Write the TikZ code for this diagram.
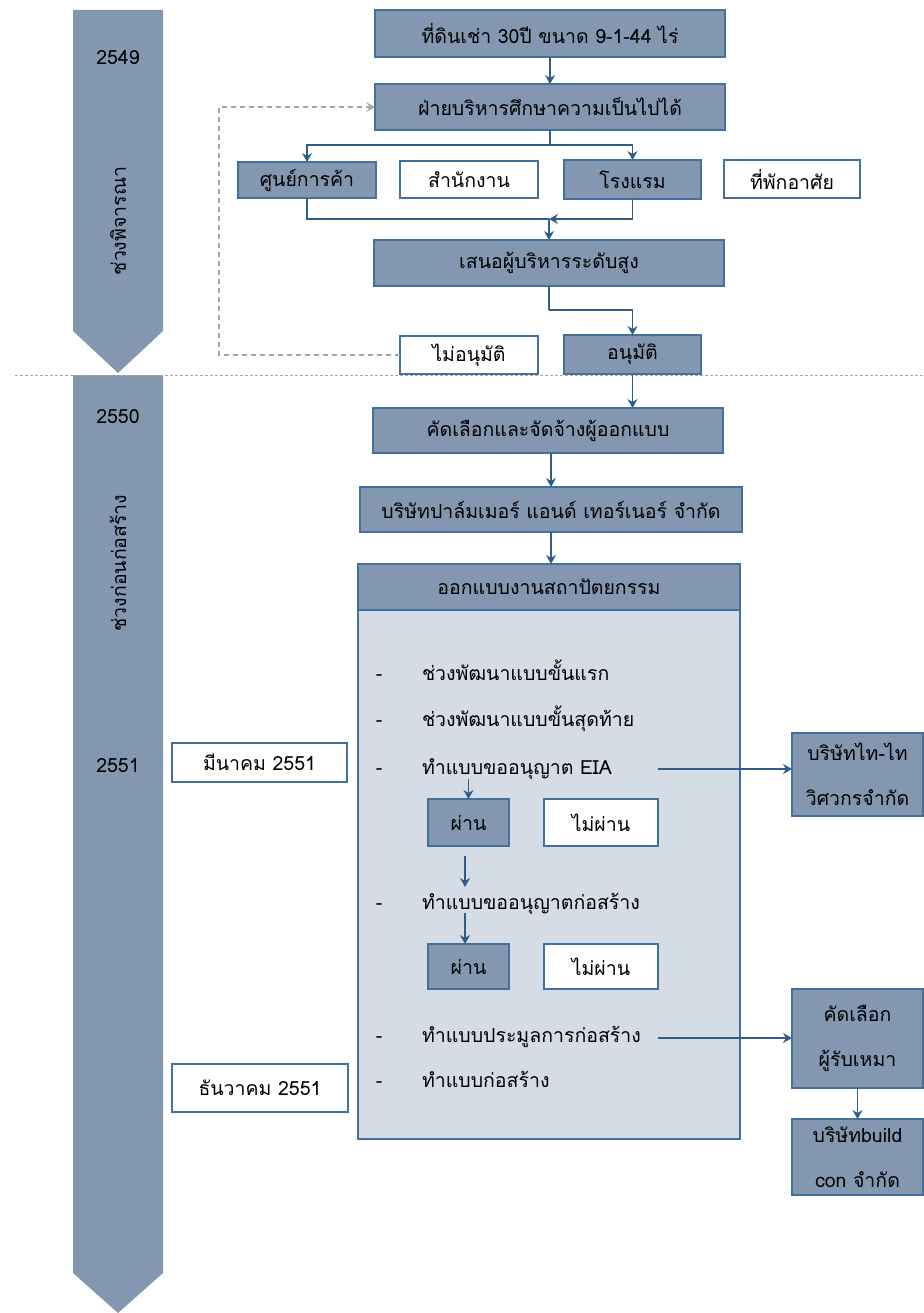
\documentclass[tikz,border=0pt]{standalone}
\usepackage{fontspec}
\setmainfont{Loma}[Script=Thai]
\usetikzlibrary{arrows.meta,calc}
\definecolor{fillB}{HTML}{8497B0}
\definecolor{lineB}{HTML}{41719C}
\definecolor{lightB}{HTML}{D6DCE5}
\definecolor{arrB}{HTML}{2F5C8A}
\definecolor{dashG}{HTML}{A6A6A6}
\begin{document}
\begin{tikzpicture}[x=1pt,y=-1pt,
  every node/.style={font=\fontsize{19.5}{24}\selectfont, text=black, inner sep=0pt, outer sep=0pt},
  darkbox/.style={draw=lineB, line width=1.3pt, fill=fillB},
  whitebox/.style={draw=lineB, line width=1.3pt, fill=white},
  arr/.style={draw=arrB, line width=1.3pt, -{Stealth[length=9pt,width=10pt,inset=3pt]}},
  plain/.style={draw=arrB, line width=1.3pt},
  dasharr/.style={draw=dashG, line width=1.2pt, dash pattern=on 5pt off 4pt, -{Stealth[length=9pt,width=10pt,inset=4pt]}},
  twoline/.style={align=center, font=\fontsize{19.5}{45}\selectfont},
  listtxt/.style={anchor=base west},
  dashmark/.style={anchor=base}
]
\useasboundingbox (0,0) rectangle (923,1313);

% timeline arrows
\fill[fillB] (73,10) -- (163,10) -- (163,331) -- (118,373) -- (73,331) -- cycle;
\fill[fillB] (73,375) -- (163,375) -- (163,1273) -- (118,1313) -- (73,1273) -- cycle;
\node (y2549) at (118,58) {2549};
\node[rotate=90] (ph1) at (118,221) {ช่วงพิจารณา};
\node (y2550) at (118,417) {2550};
\node[rotate=90] (ph2) at (118,563) {ช่วงก่อนก่อสร้าง};
\node (y2551) at (118,766) {2551};

% top flow
\node[darkbox, minimum width=350pt, minimum height=47pt] (land) at (550,33.5) {ที่ดินเช่า 30ปี ขนาด 9-1-44 ไร่};
\node[darkbox, minimum width=350pt, minimum height=46pt] (feas) at (550,107) {ฝ่ายบริหารศึกษาความเป็นไปได้};
\node[darkbox, minimum width=138pt, minimum height=36pt] (mall) at (307,180) {ศูนย์การค้า};
\node[whitebox, minimum width=138pt, minimum height=37pt] (office) at (469,179.5) {สำนักงาน};
\node[darkbox, minimum width=137pt, minimum height=39pt] (hotel) at (632.5,179.5) {โรงแรม};
\node[whitebox, minimum width=136pt, minimum height=38pt] (resid) at (792,179) {ที่พักอาศัย};
\node[darkbox, minimum width=350pt, minimum height=46pt] (present) at (549,263) {เสนอผู้บริหารระดับสูง};
\node[whitebox, minimum width=138pt, minimum height=38pt] (reject) at (469,355) {ไม่อนุมัติ};
\node[darkbox, minimum width=137pt, minimum height=39pt] (approve) at (632.5,354.5) {อนุมัติ};

\draw[arr] (land.south) -- (feas.north);
\coordinate (split) at (550,145);
\draw[plain] (feas.south) -- (split);
\draw[arr] (split) -| (mall.north);
\draw[arr] (split) -| (hotel.north);
\coordinate (merge) at (549,219);
\draw[plain] (mall.south) |- (merge);
\draw[arr] (hotel.south) |- (merge);
\draw[arr] (merge) -- (present.north);
\coordinate (bend) at (549,310);
\draw[plain] (present.south) -- (bend);
\draw[arr] (bend) -| (approve.north);
\coordinate (loopL) at (219,355);
\draw[dasharr] (reject.west) -- (loopL) |- (feas.west);

% separator
\draw[dashG, line width=1pt, dash pattern=on 3pt off 2pt] (15,375) -- (923,375);

% design stage
\node[darkbox, minimum width=350pt, minimum height=45pt] (select) at (548,430.5) {คัดเลือกและจัดจ้างผู้ออกแบบ};
\node[darkbox, minimum width=382pt, minimum height=45pt] (palmer) at (551,509.5) {บริษัทปาล์มเมอร์ แอนด์ เทอร์เนอร์ จำกัด};
\draw[arr] (approve.south) -- (approve.south |- select.north);
\draw[arr] (select.south -| palmer.north) -- (palmer.north);

\draw[lineB, line width=1.3pt, fill=lightB] (358,564) rectangle (740,1139);
\node[darkbox, minimum width=382pt, minimum height=46pt] (design) at (549,587) {ออกแบบงานสถาปัตยกรรม};
\draw[arr] (palmer.south) -- (palmer.south |- design.north);

\node[dashmark] (d1) at (379,680) {-};
\node[listtxt] (t1) at (422,680) {ช่วงพัฒนาแบบขั้นแรก};
\node[dashmark] (d2) at (379,726) {-};
\node[listtxt] (t2) at (422,726) {ช่วงพัฒนาแบบขั้นสุดท้าย};
\node[dashmark] (d3) at (379,774) {-};
\node[listtxt] (eia) at (422,774) {ทำแบบขออนุญาต EIA};
\node[darkbox, minimum width=81pt, minimum height=47pt] (pass1) at (468.5,822.5) {ผ่าน};
\node[whitebox, minimum width=114pt, minimum height=47pt] (fail1) at (601,822.5) {ไม่ผ่าน};
\node[dashmark] (d4) at (379,909) {-};
\node[listtxt] (t4) at (422,909) {ทำแบบขออนุญาตก่อสร้าง};
\node[darkbox, minimum width=81pt, minimum height=45pt] (pass2) at (468.5,966.5) {ผ่าน};
\node[whitebox, minimum width=114pt, minimum height=45pt] (fail2) at (601,966.5) {ไม่ผ่าน};
\node[dashmark] (d5) at (379,1042) {-};
\node[listtxt] (t5) at (422,1042) {ทำแบบประมูลการก่อสร้าง};
\node[dashmark] (d6) at (379,1087) {-};
\node[listtxt] (t6) at (422,1087) {ทำแบบก่อสร้าง};

\coordinate (a1s) at (468.5,779);
\draw[arr] (a1s) -- (pass1.north);
\coordinate (a2s) at (465,856);
\coordinate (a2e) at (465,887);
\draw[arr] (a2s) -- (a2e);
\coordinate (a3s) at (465,913);
\draw[arr] (a3s) -- (a3s |- pass2.north);

% right boxes
\node[darkbox, twoline, minimum width=131pt, minimum height=83pt] (thai) at (857.5,774.5) {บริษัทไท-ไท\\วิศวกรจำกัด};
\node[darkbox, twoline, minimum width=131pt, minimum height=99pt] (contr) at (857.5,1038.5) {คัดเลือก\\ผู้รับเหมา};
\node[darkbox, twoline, minimum width=131pt, minimum height=76pt] (build) at (857.5,1157) {บริษัทbuild\\con จำกัด};
\coordinate (h1) at (658,769);
\draw[arr] (h1) -- (h1 -| thai.west);
\coordinate (h2) at (658,1038);
\draw[arr] (h2) -- (h2 -| contr.west);
\draw[arr] (contr.south) -- (build.north);

% dates
\node[whitebox, minimum width=175pt, minimum height=39pt] (mar) at (259.5,762.5) {มีนาคม 2551};
\node[whitebox, minimum width=176pt, minimum height=48pt] (dec) at (260,1088) {ธันวาคม 2551};
\end{tikzpicture}
\end{document}
